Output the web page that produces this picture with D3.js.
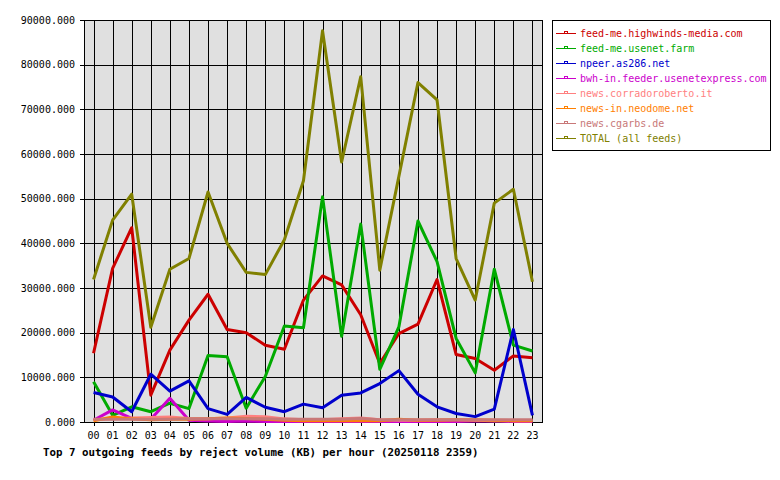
<!DOCTYPE html>
<html>
<head>
<meta charset="utf-8">
<script src="https://cdn.jsdelivr.net/npm/d3@7"></script>
<style>
  body { margin: 0; background: #fff; }
  text { font-family: "DejaVu Sans Mono", monospace; }
</style>
</head>
<body>
<svg id="chart" width="780" height="480"></svg>
<script>
const hours = ['00','01','02','03','04','05','06','07','08','09','10','11','12','13','14','15','16','17','18','19','20','21','22','23']
const yTicks = [0, 10000, 20000, 30000, 40000, 50000, 60000, 70000, 80000, 90000]

const feedNames = [
  'feed-me.highwinds-media.com',
  'feed-me.usenet.farm',
  'npeer.as286.net',
  'bwh-in.feeder.usenetexpress.com',
  'news.corradoroberto.it',
  'news-in.neodome.net',
  'news.cgarbs.de',
  'TOTAL (all feeds)'
]
const feedColors = ['#cc0000', '#00aa00', '#0000cc', '#cc00cc', '#ff8080', '#ff8000', '#c87878', '#808000']

const highwinds = [15400, 34400, 43500, 6000, 16100, 22800, 28600, 20700, 20000, 17200, 16300, 27300, 32700, 30700, 24000, 13100, 19800, 21900, 31900, 15100, 14200, 11600, 14800, 14400]
const usenetFarm = [9000, 1500, 3400, 2300, 4200, 3000, 14900, 14600, 3100, 10200, 21500, 21100, 50400, 19200, 44300, 11800, 21300, 45000, 35900, 18700, 11000, 34200, 17200, 15900]
const as286 = [6600, 5600, 2300, 10700, 6900, 9200, 3000, 1700, 5500, 3300, 2300, 4000, 3200, 6000, 6500, 8600, 11500, 6200, 3400, 1900, 1200, 2900, 20700, 1500]
const usenetExpress = [400, 2700, 800, 600, 5300, 400, 200, 100, 200, 100, 100, 100, 100, 100, 100, 100, 100, 100, 100, 100, 200, 300, 100, 100]
const corradoroberto = [500, 700, 900, 1000, 1100, 800, 700, 900, 1300, 1200, 700, 500, 500, 700, 900, 500, 400, 400, 500, 500, 400, 300, 300, 300]
const neodome = [300, 1100, 700, 500, 600, 600, 700, 900, 800, 600, 400, 300, 300, 300, 300, 300, 600, 400, 400, 500, 500, 400, 300, 300]
const cgarbs = [600, 600, 600, 600, 600, 700, 700, 700, 700, 700, 600, 600, 600, 600, 800, 500, 500, 500, 500, 500, 500, 500, 500, 500]
const total = [31900, 45200, 51000, 21200, 34200, 36600, 51500, 40000, 33500, 33000, 40800, 54000, 87600, 58200, 77300, 34000, 55000, 76000, 72100, 36600, 27300, 49000, 52100, 31400]

const series = [highwinds, usenetFarm, as286, usenetExpress, corradoroberto, neodome, cgarbs, total]

const $svg = d3.select('#chart')
const plot = { left: 84, right: 542, top: 20, bottom: 422 }

const x = d3.scaleBand().domain(hours).range([plot.left, plot.right])
const xc = h => x(h) + x.bandwidth() / 2
const y = d3.scaleLinear().domain([0, 90000]).range([plot.bottom, plot.top])

// plot background
$svg.append('rect')
  .attr('x', plot.left).attr('y', plot.top)
  .attr('width', plot.right - plot.left).attr('height', plot.bottom - plot.top)
  .attr('fill', '#e0e0e0')

const $grid = $svg.append('g').attr('shape-rendering', 'crispEdges').attr('stroke', '#000')

// horizontal grid + left ticks
$grid.selectAll('.hgrid').data(yTicks).enter()
  .append('line')
  .attr('x1', plot.left - 4).attr('x2', plot.right)
  .attr('y1', d => Math.round(y(d)) + 0.5).attr('y2', d => Math.round(y(d)) + 0.5)

// vertical grid + bottom ticks
$grid.selectAll('.vgrid').data(hours).enter()
  .append('line')
  .attr('x1', d => Math.round(xc(d)) + 0.5).attr('x2', d => Math.round(xc(d)) + 0.5)
  .attr('y1', plot.top).attr('y2', plot.bottom + 4)

// border
$grid.append('rect')
  .attr('x', plot.left + 0.5).attr('y', plot.top + 0.5)
  .attr('width', plot.right - plot.left).attr('height', plot.bottom - plot.top)
  .attr('fill', 'none')

// y labels
$svg.selectAll('.ylab').data(yTicks).enter()
  .append('text')
  .attr('x', 75).attr('y', d => y(d))
  .attr('dy', '0.35em')
  .attr('text-anchor', 'end')
  .attr('font-size', 10)
  .text(d => d3.format('.3f')(d))

// x labels
$svg.selectAll('.xlab').data(hours).enter()
  .append('text')
  .attr('x', d => xc(d)).attr('y', 435)
  .attr('dy', '0.35em')
  .attr('text-anchor', 'middle')
  .attr('font-size', 10)
  .text(d => d)

// lines
const line = d3.line()
  .x((d, i) => xc(hours[i]))
  .y(d => y(d))

$svg.append('g').selectAll('path').data(series).enter()
  .append('path')
  .attr('d', d => line(d))
  .attr('fill', 'none')
  .attr('stroke', (d, i) => feedColors[i])
  .attr('stroke-width', 3)
  .attr('stroke-linejoin', 'round')

// legend
const $legend = $svg.append('g')
$legend.append('rect')
  .attr('x', 552.5).attr('y', 20.5)
  .attr('width', 218).attr('height', 130)
  .attr('fill', '#fff').attr('stroke', '#000')
  .attr('shape-rendering', 'crispEdges')

const $item = $legend.selectAll('.item').data(feedNames).enter()
  .append('g')
  .attr('transform', (d, i) => `translate(0, ${33.5 + i * 15})`)

$item.append('line')
  .attr('x1', 556).attr('x2', 576)
  .attr('y1', 0).attr('y2', 0)
  .attr('stroke', (d, i) => feedColors[i])
  .attr('shape-rendering', 'crispEdges')
$item.append('rect')
  .attr('x', 564.5).attr('y', -2.5)
  .attr('width', 3).attr('height', 2)
  .attr('fill', 'none')
  .attr('stroke', (d, i) => feedColors[i])
  .attr('shape-rendering', 'crispEdges')
$item.append('text')
  .attr('x', 580).attr('y', 0)
  .attr('dy', '0.35em')
  .attr('font-size', 10)
  .attr('fill', (d, i) => feedColors[i])
  .text(d => d)

// title
$svg.append('text')
  .attr('x', 43).attr('y', 452)
  .attr('dy', '0.35em')
  .attr('font-size', 10.8)
  .attr('font-weight', 'bold')
  .text('Top 7 outgoing feeds by reject volume (KB) per hour (20250118 2359)')
</script>
</body>
</html>
